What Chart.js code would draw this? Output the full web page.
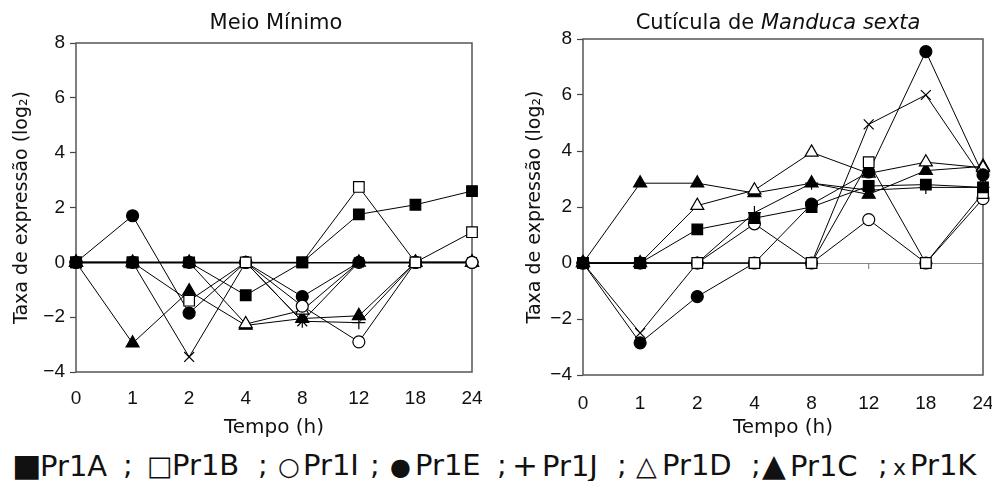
<!DOCTYPE html>
<html>
<head>
<meta charset="utf-8">
<script src="https://cdn.jsdelivr.net/npm/chart.js@4.4.1/dist/chart.umd.min.js"></script>
<style>
  body { margin: 0; background: #fff; width: 992px; height: 481px; overflow: hidden; position: relative; font-family: "DejaVu Sans"; color: #111; }
  canvas { position: absolute; top: 0; }
  .ttl { position: absolute; top: 8px; line-height: 28px; font-size: 21px; transform: translateX(-50%); white-space: nowrap; }
  #legend > span { position: absolute; top: 445px; line-height: 40px; font-size: 29px; white-space: nowrap; }
  #legend .sym { display: inline-block; }
</style>
</head>
<body>
<canvas id="left" width="496" height="440" style="left:0"></canvas>
<canvas id="right" width="496" height="440" style="left:496px"></canvas>
<div class="ttl" style="left:276px">Meio Mínimo</div>
<div class="ttl" style="left:778px">Cutícula de <i>Manduca sexta</i></div>
<div id="legend"></div>
<script>
// time points (h)
const times = ["0", "1", "2", "4", "8", "12", "18", "24"];
const seriesNames = ["Pr1A", "Pr1B", "Pr1I", "Pr1E", "Pr1J", "Pr1D", "Pr1C", "Pr1K"];

// Meio Mínimo
const mmPr1A = [0, 0, 0, -1.2, 0, 1.75, 2.1, 2.6];
const mmPr1B = [0, 0, -1.4, 0, 0, 2.75, 0, 1.1];
const mmPr1I = [0, 0, 0, 0, -1.6, -2.9, 0, 0];
const mmPr1E = [0, 1.7, -1.85, 0, -1.25, 0, 0, 0];
const mmPr1J = [0, 0, 0, 0, -2.15, -2.2, 0, 0];
const mmPr1D = [0, 0, 0, -2.25, -1.75, 0, 0, 0];
const mmPr1C = [0, -2.95, -1.05, -2.3, -2.05, -1.95, 0, 0];
const mmPr1K = [0, 0, -3.45, 0, -2.15, 0, 0, 0];

// Cutícula de Manduca sexta
const msPr1A = [0, 0, 1.2, 1.6, 2.0, 2.75, 2.8, 2.7];
const msPr1B = [0, 0, 0, 0, 0, 3.6, 0, 2.5];
const msPr1I = [0, 0, 0, 1.4, 0, 1.55, 0, 2.3];
const msPr1E = [0, -2.85, -1.2, 0, 2.1, 3.25, 7.55, 3.15];
const msPr1J = [0, 0, 0, 1.8, 2.85, 2.6, 2.7, 2.7];
const msPr1D = [0, 0, 2.05, 2.6, 3.95, 3.2, 3.6, 3.4];
const msPr1C = [0, 2.85, 2.85, 2.5, 2.85, 2.45, 3.3, 3.45];
const msPr1K = [0, -2.5, 0, 0, 0, 4.95, 6.0, 3.0];

const markers = {
  Pr1A: { style: "rect", r: 7.5, fill: "#000", sym: "■", symSize: 31 },
  Pr1B: { style: "rect", r: 7.5, fill: "#fff", sym: "□", symSize: 27 },
  Pr1I: { style: "circle", r: 6, fill: "#fff", sym: "○", symSize: 25 },
  Pr1E: { style: "circle", r: 6, fill: "#000", sym: "●", symSize: 24 },
  Pr1J: { style: "cross", r: 6.5, fill: "#000", sym: "+", symSize: 31 },
  Pr1D: { style: "triangle", r: 7.5, fill: "#fff", sym: "△", symSize: 27 },
  Pr1C: { style: "triangle", r: 7.5, fill: "#000", sym: "▲", symSize: 31 },
  Pr1K: { style: "crossRot", r: 7, fill: "#000", sym: "x", symSize: 22 },
};

function makeSets(values) {
  return seriesNames.map((name, i) => ({
    label: name,
    data: values[i],
    borderColor: "#000",
    borderWidth: 1,
    tension: 0,
    fill: false,
    clip: false,
    pointStyle: markers[name].style,
    pointRadius: markers[name].r,
    pointBackgroundColor: markers[name].fill,
    pointBorderColor: "#000",
    pointBorderWidth: 1.2,
  }));
}

const framePlugin = {
  id: "frame",
  beforeDatasetsDraw(chart, args, opts) {
    const a = chart.chartArea;
    const ctx = chart.ctx;
    ctx.save();
    ctx.strokeStyle = "#555";
    ctx.lineWidth = 1.5;
    ctx.strokeRect(a.left, a.top, a.right - a.left, a.bottom - a.top);
    if (opts.zeroTicks) {
      const y0 = chart.scales.y.getPixelForValue(0);
      ctx.lineWidth = 1;
      ctx.strokeStyle = "#777";
      times.forEach((t, i) => {
        const x = chart.scales.x.getPixelForValue(i);
        ctx.beginPath();
        ctx.moveTo(x, y0);
        ctx.lineTo(x, y0 + 6);
        ctx.stroke();
      });
    }
    ctx.restore();
  },
};

function makeChart(id, values, cfg) {
  return new Chart(document.getElementById(id), {
    type: "line",
    data: { labels: times, datasets: makeSets(values) },
    plugins: [framePlugin],
    options: {
      responsive: false,
      animation: false,
      devicePixelRatio: 1,
      layout: { padding: { left: 0, top: cfg.top, right: cfg.right, bottom: 0 } },
      plugins: {
        legend: { display: false },
        tooltip: { enabled: false },
        frame: { zeroTicks: cfg.zeroTicks },
      },
      scales: {
        x: {
          type: "category",
          offset: false,
          border: { display: false },
          grid: { display: false, drawTicks: false },
          ticks: { font: { family: "Liberation Sans", size: 19 }, color: "#111", padding: cfg.xPad, maxRotation: 0, autoSkip: false },
          title: { display: true, text: "Tempo (h)", font: { family: "DejaVu Sans", size: 20 }, color: "#111", padding: { top: 0, bottom: 0 } },
          afterFit: (s) => {
            s.height = 440 - cfg.bottom;
            s.paddingLeft = 0;
            s.paddingRight = 0;
          },
        },
        y: {
          min: -4,
          max: 8,
          border: { display: false },
          grid: {
            color: (c) => (c.tick && c.tick.value === 0 ? cfg.zeroColor : "rgba(0,0,0,0)"),
            lineWidth: (c) => (c.tick && c.tick.value === 0 ? cfg.zeroWidth : 1),
            tickColor: "#444",
            tickWidth: 1.2,
            tickLength: 6,
          },
          ticks: {
            stepSize: 2,
            font: { family: "Liberation Sans", size: 19 },
            color: "#111",
            padding: 5,
            callback: (v) => (v < 0 ? "\u2212" + Math.abs(v) : String(v)),
          },
          title: { display: true, text: "Taxa de expressão (log₂)", font: { family: "DejaVu Sans", size: 19 }, color: "#111", padding: { top: cfg.yTitle - 11.4 } },
          afterFit: (s) => { s.width = cfg.yWidth; },
        },
      },
    },
  });
}

makeChart("left", [mmPr1A, mmPr1B, mmPr1I, mmPr1E, mmPr1J, mmPr1D, mmPr1C, mmPr1K],
  { top: 43, bottom: 372, right: 24, yWidth: 76, yTitle: 22, xPad: 15, zeroColor: "#000", zeroWidth: 1.6, zeroTicks: false });
makeChart("right", [msPr1A, msPr1B, msPr1I, msPr1E, msPr1J, msPr1D, msPr1C, msPr1K],
  { top: 39, bottom: 375, right: 9, yWidth: 87, yTitle: 39, xPad: 17, zeroColor: "#888", zeroWidth: 1, zeroTicks: true });

// legend line at the bottom
const symLefts = [12, 147, 278, 390, 512, 636, 762, 893];
const nameLefts = [40, 172, 303, 415, 542, 662, 790, 910];
const sepLefts = [123, 258, 370, 497, 617, 751, 878];
const legend = document.getElementById("legend");
seriesNames.forEach((name, i) => {
  const s = document.createElement("span");
  s.style.left = symLefts[i] + "px";
  const w = nameLefts[i] - symLefts[i];
  s.innerHTML = '<span class="sym" style="width:' + w + "px;font-size:" + markers[name].symSize + 'px">' + markers[name].sym + "</span>" + name;
  legend.appendChild(s);
  if (i < sepLefts.length) {
    const sep = document.createElement("span");
    sep.style.left = sepLefts[i] + "px";
    sep.textContent = ";";
    legend.appendChild(sep);
  }
});
</script>
</body>
</html>
